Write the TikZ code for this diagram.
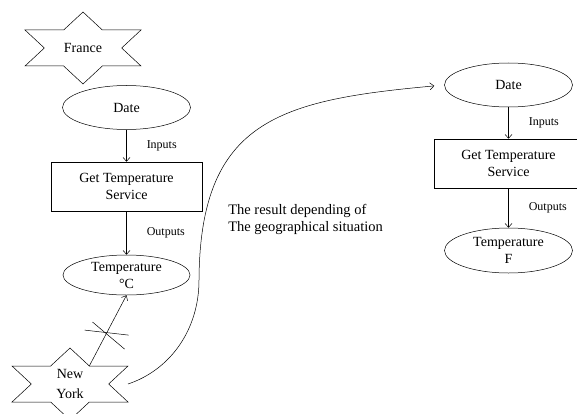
\documentclass[tikz,border=0pt]{standalone}
\usepackage{fontspec}
\setmainfont{Liberation Serif}
\usetikzlibrary{arrows.meta,shapes.geometric}

% six-pointed star drawn round a text node, #1 = node, #2 = outer radius
\newcommand{\hexstar}[2]{%
  \draw[shift={(#1.center)}, xscale=1.86]
    (90:#2) -- (60:{#2/1.732}) -- (30:#2) -- (0:{#2/1.732})
    -- (-30:#2) -- (-60:{#2/1.732}) -- (-90:#2) -- (-120:{#2/1.732})
    -- (-150:#2) -- (180:{#2/1.732}) -- (150:#2) -- (120:{#2/1.732}) -- cycle;
}

\begin{document}
\begin{tikzpicture}[x=1pt, y=1pt, line width=0.5pt,
  >={Straight Barb[length=4pt,width=7pt]},
  font=\fontsize{14}{17}\selectfont,
  io/.style={ellipse, draw, align=center, inner sep=-4pt,
    minimum width=128pt, minimum height=44pt},
  svc/.style={rectangle, draw, align=center,
    minimum width=151pt, minimum height=49pt},
  lbl/.style={font=\fontsize{12}{14}\selectfont, inner sep=1pt},
  place/.style={align=center, inner sep=0pt}]
  \useasboundingbox (0,0) rectangle (577,-414);

  % left chain
  \node[place] (france) at (83,-48) {France};
  \node[io] (datel) at (126.5,-107.5) {Date};
  \node[svc] (svcl) at (126.5,-186.5) {Get Temperature\\Service};
  \node[io, minimum width=127pt, minimum height=40pt] (tempc) at (126.5,-275) {Temperature\\°C};
  \node[place, font=\fontsize{14}{20}\selectfont] (ny) at (70,-384) {New\\York};

  % right chain
  \node[io] (dater) at (508.5,-85) {Date};
  \node[svc, minimum width=148pt] (svcr) at (508.5,-163.5) {Get Temperature\\Service};
  \node[io, minimum height=45pt] (tempf) at (508.5,-250.5) {Temperature\\F};

  \node[align=left, anchor=west, inner sep=0pt, font=\fontsize{14.5}{17}\selectfont]
    (note) at (228,-219.5) {The result depending of\\The geographical situation};

  \hexstar{france}{36}
  \hexstar{ny}{36}
  \path (ny.center) ++(19.3,18) coordinate (ny-ne);
  \path (ny.center) ++(58,0) coordinate (ny-e);
  \coordinate (bend) at (199,-280);

  \draw[->] (datel) -- node[lbl, right=19pt] {Inputs} (svcl);
  \draw[->] (svcl) -- node[lbl, right=19pt] {Outputs} (tempc);
  \draw[->] (dater) -- node[lbl, right=19pt] {Inputs} (svcr);
  \draw[->] (svcr) -- node[lbl, right=19pt] {Outputs} (tempf);

  \draw[->] (ny-ne) -- coordinate[pos=0.465] (cut) (tempc.south);
  \draw (cut) ++(-22,3) -- ++(44,-5);
  \draw (cut) ++(-14,11) -- ++(32,-27);

  \draw[->, shorten >=10pt] (ny-e) .. controls (170,-370) and (199,-330) .. (bend)
    .. controls (200,-120) and (280,-100) .. (dater.west);
\end{tikzpicture}
\end{document}
